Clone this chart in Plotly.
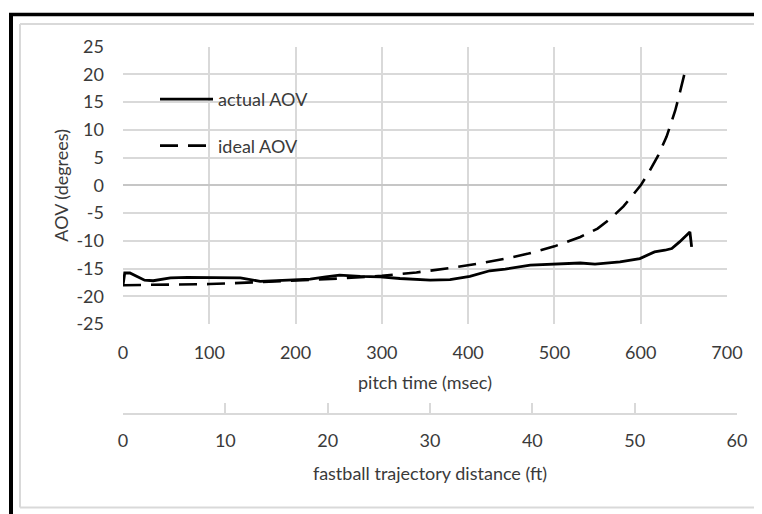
import plotly.graph_objects as go

# page shows the figure offset by the browser's default 8px body margin
OFF = 8
W, H = 762 - OFF, 514 - OFF

# ---- data ----
actual_t = [0, 2, 8, 15, 25, 35, 44, 55, 75, 100, 136, 159, 175, 194, 217, 235, 251, 275,
            298, 321, 356, 379, 402, 425, 443, 472, 506, 530, 547, 576, 599, 616, 628,
            636, 645, 657, 659]
actual_aov = [-18.0, -15.8, -15.8, -16.4, -17.1, -17.2, -17.0, -16.7, -16.6, -16.6, -16.7,
              -17.3, -17.2, -17.0, -16.9, -16.5, -16.2, -16.4, -16.5, -16.8, -17.1, -17.0,
              -16.4, -15.4, -15.1, -14.4, -14.1, -14.0, -14.2, -13.8, -13.2, -12.0, -11.7,
              -11.4, -10.2, -8.4, -11.1]
ideal_t = [0, 50, 100, 150, 200, 250, 300, 340, 380, 420, 450, 470, 500, 530, 550, 565,
           580, 590, 600, 610, 620, 630, 640, 645, 651]
ideal_aov = [-18.0, -17.9, -17.8, -17.5, -17.2, -16.8, -16.3, -15.7, -14.9, -13.9, -13.0,
             -12.3, -11.0, -9.3, -7.8, -6.0, -3.8, -2.0, 0.0, 2.5, 5.3, 8.8, 13.5, 16.5, 20.3]
time_ticks = [0, 100, 200, 300, 400, 500, 600, 700]
dist_ticks = [0, 10, 20, 30, 40, 50, 60]
aov_ticks = [25, 20, 15, 10, 5, 0, -5, -10, -15, -20, -25]
aov_labels = ["25", "20", "15", "10", "5", "0", "-5", "-10", "-15", "-20", "-25"]

FONT = "Lato"
FS = 18
TXT = "#3a3a3a"
GRID = "#d9d9d9"


def px(x):
    return (x - OFF) / W


def py(y):
    return 1 - (y - OFF) / H


fig = go.Figure()
fig.add_trace(go.Scatter(x=actual_t, y=actual_aov, mode="lines", name="actual AOV",
                         line=dict(color="black", width=2.8), legendgroup="a"))
fig.add_trace(go.Scatter(x=ideal_t, y=ideal_aov, mode="lines", name="ideal AOV",
                         line=dict(color="black", width=2.6, dash="18px,10px"), legendgroup="b"))
# dummy trace to carry the secondary distance axis
fig.add_trace(go.Scatter(x=[dist_ticks[0], dist_ticks[-1]], y=[0, 0], xaxis="x2", yaxis="y2",
                         mode="lines", line=dict(width=0), showlegend=False, hoverinfo="skip"))

fig.update_layout(
    width=W, height=H,
    margin=dict(l=0, r=0, t=0, b=0, autoexpand=False),
    paper_bgcolor="white", plot_bgcolor="rgba(0,0,0,0)",
    font=dict(family=FONT, size=FS, color=TXT),
    showlegend=True,
    legend=dict(x=px(155), y=py(81), xanchor="left", yanchor="top",
                bgcolor="rgba(0,0,0,0)", tracegroupgap=20, itemwidth=53,
                font=dict(family=FONT, size=FS, color=TXT)),
    xaxis=dict(domain=[px(123), px(727)], range=[0, 700], tickvals=time_ticks,
               showgrid=True, gridcolor=GRID, gridwidth=1.5, zeroline=False,
               showline=False, ticks="", ticklabelstandoff=16, automargin=False,
               title=dict(text="pitch time (msec)", standoff=14,
                          font=dict(family=FONT, size=FS, color=TXT)),
               anchor="y"),
    yaxis=dict(domain=[py(324), py(46.7)], range=[-25, 25], tickvals=aov_ticks,
               ticktext=aov_labels,
               showgrid=True, gridcolor=GRID, gridwidth=1.5,
               zeroline=True, zerolinecolor="#c6c6c6", zerolinewidth=1.5,
               showline=False, ticks="", ticklabelstandoff=18, automargin=False,
               title=dict(text="AOV (degrees)", standoff=3,
                          font=dict(family=FONT, size=FS, color=TXT))),
    xaxis2=dict(domain=[px(123), px(737)], range=[0, 60], tickvals=dist_ticks,
                anchor="y2", showgrid=False, zeroline=False, automargin=False,
                showline=True, linecolor=GRID, linewidth=2,
                ticks="inside", ticklen=10, tickwidth=2, tickcolor=GRID,
                ticklabelstandoff=11,
                title=dict(text="fastball trajectory distance (ft)", standoff=17,
                           font=dict(family=FONT, size=FS, color=TXT))),
    yaxis2=dict(domain=[py(412.7), py(400)], range=[-1, 1], visible=False, anchor="x2"),
)

shapes = [
    dict(type="line", xref="paper", yref="paper", x0=px(9), x1=1, y0=py(14.5), y1=py(14.5),
         line=dict(color="black", width=3.5)),
    dict(type="line", xref="paper", yref="paper", x0=px(11), x1=px(11), y0=py(13), y1=0,
         line=dict(color="black", width=4)),
    dict(type="line", xref="paper", yref="paper", x0=px(20), x1=1, y0=py(24), y1=py(24),
         line=dict(color=GRID, width=2)),
    dict(type="line", xref="paper", yref="paper", x0=px(20), x1=px(20), y0=py(24), y1=py(507.5),
         line=dict(color=GRID, width=2)),
    dict(type="line", xref="paper", yref="paper", x0=px(20), x1=1, y0=py(507.5), y1=py(507.5),
         line=dict(color=GRID, width=2)),
]
fig.update_layout(shapes=shapes)

fig.write_html("out.html")
